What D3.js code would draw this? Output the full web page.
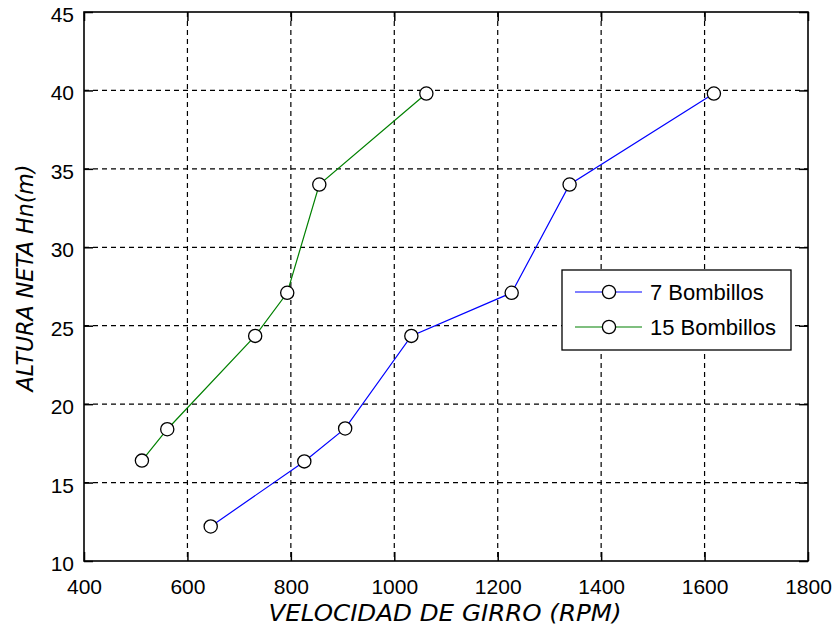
<!DOCTYPE html>
<html>
<head>
<meta charset="utf-8">
<script src="https://cdn.jsdelivr.net/npm/d3@7"></script>
<style>
  body { margin: 0; background: #fff; }
  svg { display: block; }
  .tick text { font-family: "Liberation Sans", Arial, sans-serif; font-size: 21px; fill: #000; }
</style>
</head>
<body>
<div id="chart"></div>
<script>
// data
var rpm7 = [645, 826, 905, 1033, 1227, 1339, 1618];
var alt7 = [12.2, 16.35, 18.45, 24.35, 27.1, 34.0, 39.8];
var rpm15 = [512, 561, 731, 793, 855, 1062];
var alt15 = [16.4, 18.4, 24.35, 27.1, 34.0, 39.8];
var seriesNames = ["7 Bombillos", "15 Bombillos"];
var seriesColors = ["#0000ff", "#008000"];
var xTicks = [400, 600, 800, 1000, 1200, 1400, 1600, 1800];
var yTicks = [10, 15, 20, 25, 30, 35, 40, 45];

var W = 838, H = 630;
var margin = {top: 12, right: 30, bottom: 69, left: 84},
    width = W - margin.left - margin.right,
    height = H - margin.top - margin.bottom;

var svg = d3.select("#chart").append("svg")
    .attr("width", W)
    .attr("height", H)
  .append("g")
    .attr("transform", "translate(" + margin.left + "," + margin.top + ")");

var x = d3.scaleLinear().domain([400, 1800]).range([0, width]);
var y = d3.scaleLinear().domain([10, 45]).range([height, 0]);

// grid
svg.append("g").selectAll("line.gx")
    .data(xTicks.slice(1, -1))
  .enter().append("line")
    .attr("x1", d => x(d)).attr("x2", d => x(d))
    .attr("y1", 0).attr("y2", height)
    .attr("stroke", "#000").attr("stroke-width", 1.2)
    .attr("stroke-dasharray", "5,4");
svg.append("g").selectAll("line.gy")
    .data(yTicks.slice(1, -1))
  .enter().append("line")
    .attr("y1", d => y(d)).attr("y2", d => y(d))
    .attr("x1", 0).attr("x2", width)
    .attr("stroke", "#000").attr("stroke-width", 1.2)
    .attr("stroke-dasharray", "5,4");

// axes (ticks inward)
var xAxis = svg.append("g")
    .attr("transform", "translate(0," + height + ")")
    .call(d3.axisBottom(x).tickValues(xTicks).tickSize(-9).tickPadding(18).tickFormat(d3.format("d")));
var yAxis = svg.append("g")
    .call(d3.axisLeft(y).tickValues(yTicks).tickSize(-9).tickPadding(10).tickFormat(d3.format("d")));
svg.append("g")
    .call(d3.axisTop(x).tickValues(xTicks).tickSize(-9).tickFormat(""));
svg.append("g")
    .attr("transform", "translate(" + width + ",0)")
    .call(d3.axisRight(y).tickValues(yTicks).tickSize(-9).tickFormat(""));
svg.selectAll(".domain").remove();
svg.selectAll(".tick line").attr("stroke", "#000").attr("stroke-width", 1.5);
yAxis.selectAll(".tick text").attr("dy", "0.45em");

// frame
svg.append("rect")
    .attr("width", width).attr("height", height)
    .attr("fill", "none").attr("stroke", "#000").attr("stroke-width", 1.6);

// series
var series = [
  {name: seriesNames[0], color: seriesColors[0], pts: rpm7.map((v, i) => [v, alt7[i]])},
  {name: seriesNames[1], color: seriesColors[1], pts: rpm15.map((v, i) => [v, alt15[i]])}
];
var line = d3.line().x(d => x(d[0])).y(d => y(d[1]));

series.forEach(function(s) {
  svg.append("path")
      .datum(s.pts)
      .attr("d", line)
      .attr("fill", "none")
      .attr("stroke", s.color)
      .attr("stroke-width", 1.2);
  svg.append("g").selectAll("circle")
      .data(s.pts)
    .enter().append("circle")
      .attr("cx", d => x(d[0]))
      .attr("cy", d => y(d[1]))
      .attr("r", 6.6)
      .attr("fill", "#fff")
      .attr("stroke", "#000")
      .attr("stroke-width", 1.3);
});

// axis labels
svg.append("text")
    .attr("x", 445 - margin.left)
    .attr("y", height + 60)
    .attr("text-anchor", "middle")
    .attr("textLength", 353)
    .attr("lengthAdjust", "spacingAndGlyphs")
    .style("font-family", "'DejaVu Sans', sans-serif")
    .style("font-style", "italic")
    .style("font-size", "23px")
    .text("VELOCIDAD DE GIRRO (RPM)");

svg.append("text")
    .attr("transform", "translate(" + (33 - margin.left) + "," + (278 - margin.top) + ") rotate(-90)")
    .attr("text-anchor", "middle")
    .attr("textLength", 227)
    .attr("lengthAdjust", "spacingAndGlyphs")
    .style("font-family", "'DejaVu Sans', sans-serif")
    .style("font-style", "italic")
    .style("font-size", "23px")
    .text("ALTURA NETA Hn(m)");

// legend
var lg = svg.append("g")
    .attr("transform", "translate(" + (562 - margin.left) + "," + (270 - margin.top) + ")");
lg.append("rect")
    .attr("width", 229).attr("height", 80)
    .attr("fill", "#fff").attr("stroke", "#000").attr("stroke-width", 1.3);
series.forEach(function(s, i) {
  var ly = 22 + i * 35;
  lg.append("line")
      .attr("x1", 13).attr("x2", 80)
      .attr("y1", ly).attr("y2", ly)
      .attr("stroke", s.color).attr("stroke-width", 1.2);
  lg.append("circle")
      .attr("cx", 47).attr("cy", ly).attr("r", 6.6)
      .attr("fill", "#fff").attr("stroke", "#000").attr("stroke-width", 1.3);
  lg.append("text")
      .attr("x", 88).attr("y", ly + 8)
      .style("font-family", "'Liberation Sans', Arial, sans-serif")
      .style("font-size", "22px")
      .text(s.name);
});
</script>
</body>
</html>
